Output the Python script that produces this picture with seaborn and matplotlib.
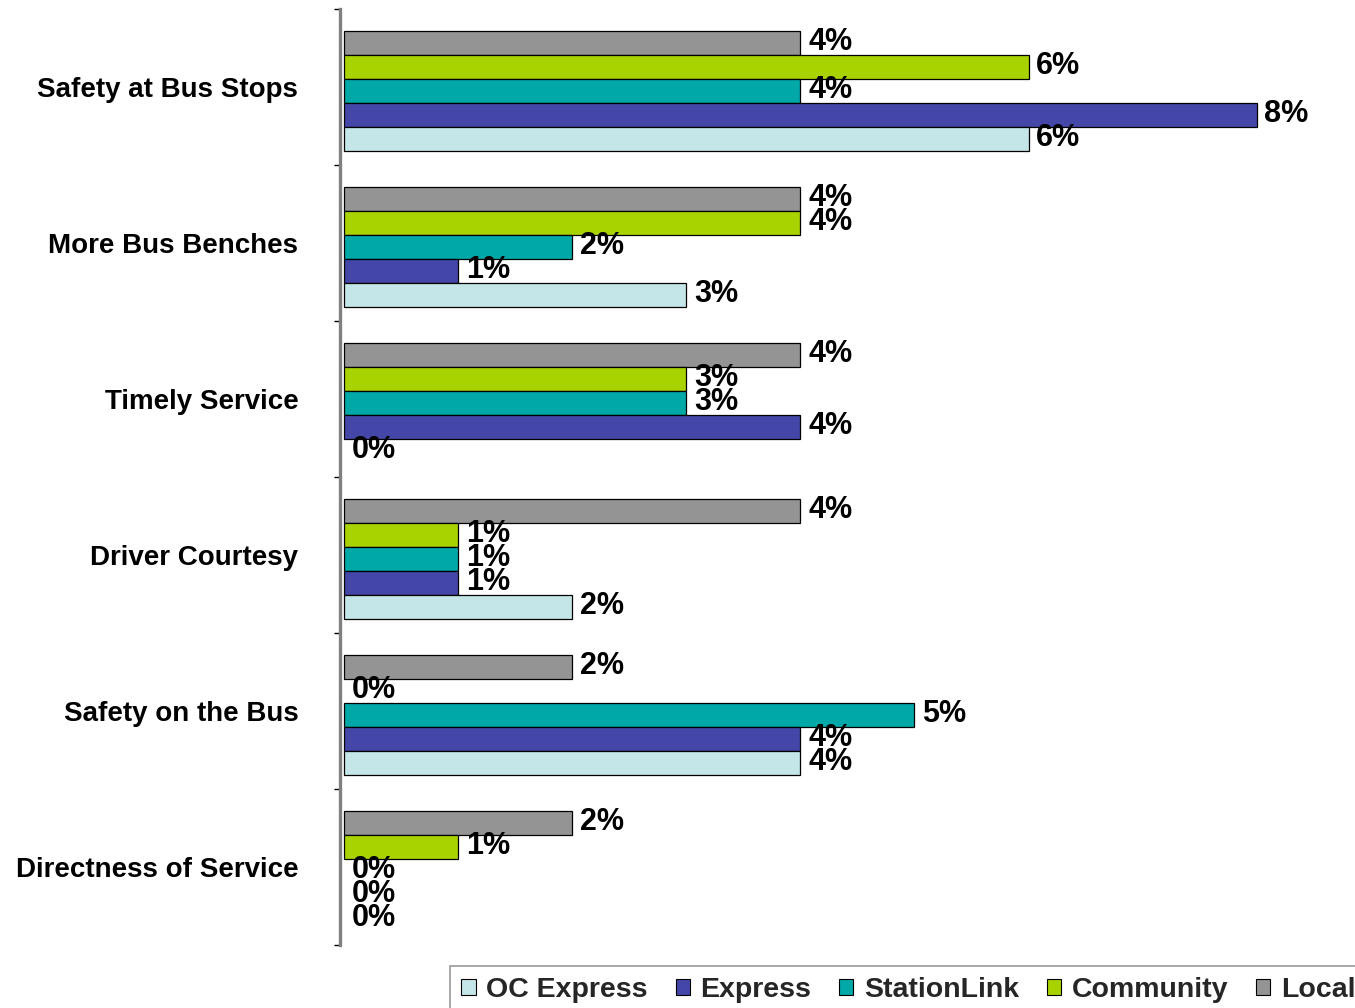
import matplotlib
matplotlib.use("Agg")
import matplotlib.pyplot as plt
import seaborn as sns
import pandas as pd
from matplotlib.patches import Patch

categories = ["Safety at Bus Stops", "More Bus Benches", "Timely Service",
              "Driver Courtesy", "Safety on the Bus", "Directness of Service"]
oc_express = [6, 3, 0, 2, 4, 0]
express = [8, 1, 4, 1, 4, 0]
stationlink = [4, 2, 3, 1, 5, 0]
community = [6, 4, 3, 1, 0, 1]
local = [4, 4, 4, 4, 2, 2]

series_names = ["OC Express", "Express", "StationLink", "Community", "Local"]
series_vals = [oc_express, express, stationlink, community, local]
colors = {"OC Express": "#C5E6E8", "Express": "#4447A8", "StationLink": "#00A8A8",
          "Community": "#A9D300", "Local": "#949494"}

rows = []
for name, vals in zip(series_names, series_vals):
    for c, v in zip(categories, vals):
        rows.append({"Category": c, "Series": name, "Value": v})
df = pd.DataFrame(rows)

sns.set_theme(style="white")
plt.rcParams["font.family"] = ["Liberation Sans", "DejaVu Sans"]
plt.rcParams["font.weight"] = "bold"

fig = plt.figure(figsize=(13.55, 10.08), dpi=100)
ax = fig.add_axes([340/1355, 1-945/1008, 1-340/1355, (945-9)/1008])

hue_order = ["Local", "Community", "StationLink", "Express", "OC Express"]
sns.barplot(data=df, x="Value", y="Category", hue="Series", order=categories,
            hue_order=hue_order, palette=colors, saturation=1, orient="h",
            width=0.77, edgecolor="black", linewidth=0.9, ax=ax, legend=False)

for p in ax.patches:
    if p.get_width() == 0:
        p.set_linewidth(0)

for cont in ax.containers:
    anns = ax.bar_label(cont, labels=[f"{w:.0f}%" for w in cont.datavalues],
                        padding=5.5, fontsize=22, fontweight="bold", color="black")
    for a in anns:
        a.xyann = (a.xyann[0], 0.5)

px_per = 114.1
shift = 4 / 156
ax.set_xlim(-4/px_per, (1355-344)/px_per)
ax.set_ylim(5.5 - shift, -0.5 - shift)
ax.set_xlabel("")
ax.set_ylabel("")
ax.set_xticks([])
for s in ["top", "right", "bottom"]:
    ax.spines[s].set_visible(False)
ax.spines["left"].set_color("#808080")
ax.spines["left"].set_linewidth(2.4)

ax.set_yticks([i - shift for i in range(len(categories))])
ax.set_yticklabels(categories, fontsize=20, fontweight="bold", color="black")
ax.set_yticks([i - 0.5 - shift for i in range(len(categories) + 1)], minor=True)
ax.tick_params(axis="y", which="major", length=0, pad=30)
ax.tick_params(axis="y", which="minor", length=4.5, width=1, color="black", left=True)

handles = [Patch(facecolor=colors[n], edgecolor="black", linewidth=0.8) for n in series_names]
leg = fig.legend(handles, series_names, loc="upper left",
                 bbox_to_anchor=(450/1355, 1-966/1008), ncol=5,
                 prop={"size": 20.5, "weight": "bold"}, frameon=True,
                 fancybox=False, handlelength=0.5, handleheight=0.5,
                 handletextpad=0.37, columnspacing=0.98, borderpad=0.4,
                 borderaxespad=0)
leg.get_frame().set_edgecolor("#808080")
leg.get_frame().set_linewidth(1.2)

fig.savefig("out.png", dpi=100)
